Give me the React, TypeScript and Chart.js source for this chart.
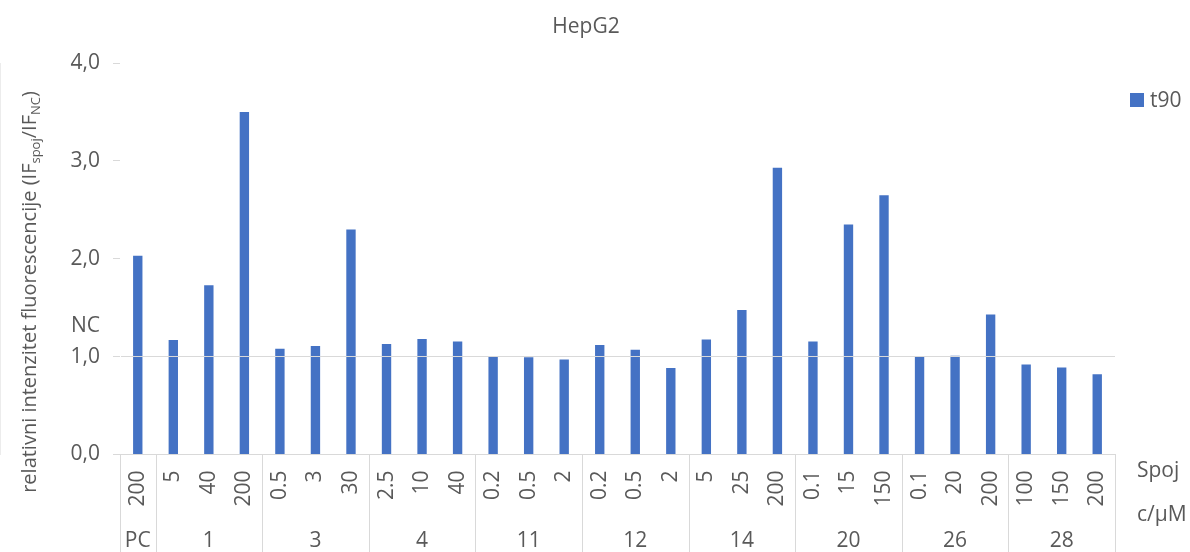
import { useEffect, useRef } from 'react';
import { Chart, registerables } from 'chart.js';

Chart.register(...registerables);

// ---- data ----
const chartTitle = 'HepG2';
const seriesName = 't90';
const concentrations = ['200', '5', '40', '200', '0.5', '3', '30', '2.5', '10', '40', '0.2', '0.5', '2', '0.2', '0.5', '2', '5', '25', '200', '0.1', '15', '150', '0.1', '20', '200', '100', '150', '200'];
const t90Values = [2.04, 1.18, 1.74, 3.51, 1.09, 1.12, 2.31, 1.14, 1.19, 1.165, 1.01, 1.005, 0.98, 1.13, 1.08, 0.895, 1.185, 1.486, 2.94, 1.165, 2.36, 2.66, 1.015, 1.02, 1.44, 0.93, 0.9, 0.83];
const compounds = ['PC', '1', '3', '4', '11', '12', '14', '20', '26', '28'];
const compoundSizes = [1, 3, 3, 3, 3, 3, 3, 3, 3, 3];
const yTickValues = [0, 1, 2, 3, 4];
const ncValue = 1;
const ncLabel = 'NC';
const xLevelNames = ['Spoj', 'c/μM'];

const FONT = '"Open Sans", "Noto Sans", sans-serif';
const FS = 21;
const TEXT = '#595959';
const LINE = '#d9d9d9';
const BAR = '#4472c4';

const overlayPlugin = {
  id: 'overlay',
  afterDraw(chart: any) {
    const { ctx, chartArea, scales } = chart;
    const x = scales.x;
    const y = scales.y;
    const H = chart.height;
    ctx.save();

    // Title
    ctx.fillStyle = TEXT;
    ctx.font = `${FS}px ${FONT}`;
    ctx.textAlign = 'center';
    ctx.textBaseline = 'alphabetic';
    ctx.fillText(chartTitle, 586, 33);

    // Group separators and compound labels
    ctx.strokeStyle = LINE;
    ctx.lineWidth = 1;
    const bounds: number[] = [chartArea.left];
    let idx = 0;
    compoundSizes.forEach((n, gi) => {
      idx += n;
      if (gi < compoundSizes.length - 1) {
        bounds.push((x.getPixelForValue(idx - 1) + x.getPixelForValue(idx)) / 2);
      } else {
        bounds.push(chartArea.right);
      }
    });
    bounds.forEach((bx) => {
      const px = Math.round(bx) + 0.5;
      ctx.beginPath();
      ctx.moveTo(px, chartArea.bottom);
      ctx.lineTo(px, H);
      ctx.stroke();
    });
    ctx.textAlign = 'center';
    compounds.forEach((c, gi) => {
      ctx.fillText(c, (bounds[gi] + bounds[gi + 1]) / 2, 547);
    });

    // Level names on the right
    ctx.textAlign = 'left';
    ctx.fillText(xLevelNames[0], 1137, 477);
    ctx.fillText(xLevelNames[1], 1137, 521);

    // NC label
    ctx.textAlign = 'right';
    ctx.fillText(ncLabel, 100, y.getPixelForValue(ncValue) - 25);

    // Legend
    ctx.fillStyle = BAR;
    ctx.fillRect(1130, 93, 14, 14);
    ctx.fillStyle = TEXT;
    ctx.textAlign = 'left';
    ctx.fillText(seriesName, 1150, 107);

    // Y axis title with subscripts
    const segs: [string, boolean][] = [
      ['relativni intenzitet fluorescencije (IF', false],
      ['spoj', true],
      ['/IF', false],
      ['NC', true],
      [')', false],
    ];
    const mainFont = `20px ${FONT}`;
    const subFont = `13px ${FONT}`;
    let total = 0;
    const widths = segs.map(([t, sub]) => {
      ctx.font = sub ? subFont : mainFont;
      const w = ctx.measureText(t).width;
      total += w;
      return w;
    });
    ctx.translate(36, 292);
    ctx.rotate(-Math.PI / 2);
    let cx = -total / 2;
    ctx.textAlign = 'left';
    segs.forEach(([t, sub], i) => {
      ctx.font = sub ? subFont : mainFont;
      ctx.fillText(t, cx, sub ? 4 : 0);
      cx += widths[i];
    });
    ctx.restore();
  },
};

export default function App() {
  const ref = useRef<HTMLCanvasElement>(null);
  useEffect(() => {
    const chart = new Chart(ref.current!, {
      type: 'bar',
      data: {
        labels: concentrations,
        datasets: [
          {
            label: seriesName,
            data: t90Values,
            backgroundColor: BAR,
            borderColor: 'rgba(255,255,255,0.45)',
            borderWidth: 1,
            barPercentage: 0.32,
            categoryPercentage: 1,
          },
        ],
      },
      options: {
        responsive: false,
        animation: false,
        devicePixelRatio: 1,
        layout: { padding: { top: 63, right: 75, left: 0, bottom: 0 } },
        plugins: {
          legend: { display: false },
          title: { display: false },
          tooltip: { enabled: false },
        },
        scales: {
          x: {
            type: 'category',
            afterFit: (s: any) => {
              s.height = 97.5;
            },
            grid: { display: false, drawTicks: false, tickLength: 0 },
            border: { display: true, color: LINE, width: 1, z: 1 },
            ticks: {
              autoSkip: false,
              maxRotation: 90,
              minRotation: 90,
              padding: 16,
              color: TEXT,
              font: { family: FONT, size: FS },
            },
          },
          y: {
            min: 0,
            max: 4,
            afterFit: (s: any) => {
              s.width = 120;
            },
            afterBuildTicks: (s: any) => {
              s.ticks = yTickValues.map((v) => ({ value: v }));
            },
            grid: {
              z: 1,
              color: (c: any) => (c.tick && c.tick.value === ncValue ? LINE : 'rgba(0,0,0,0)'),
              tickColor: LINE,
              tickLength: 7,
              lineWidth: 1,
            },
            border: { display: true, color: LINE, width: 1 },
            ticks: {
              padding: 13,
              color: TEXT,
              font: { family: FONT, size: FS },
              callback: (v: any) => Number(v).toFixed(1).replace('.', ','),
            },
          },
        },
      },
      plugins: [overlayPlugin],
    });
    return () => chart.destroy();
  }, []);
  return (
    <div style={{ position: 'fixed', left: 0, top: 0, width: 1190, height: 552, background: '#fff' }}>
      <canvas ref={ref} width={1190} height={552} style={{ display: 'block', width: 1190, height: 552 }} />
    </div>
  );
}
